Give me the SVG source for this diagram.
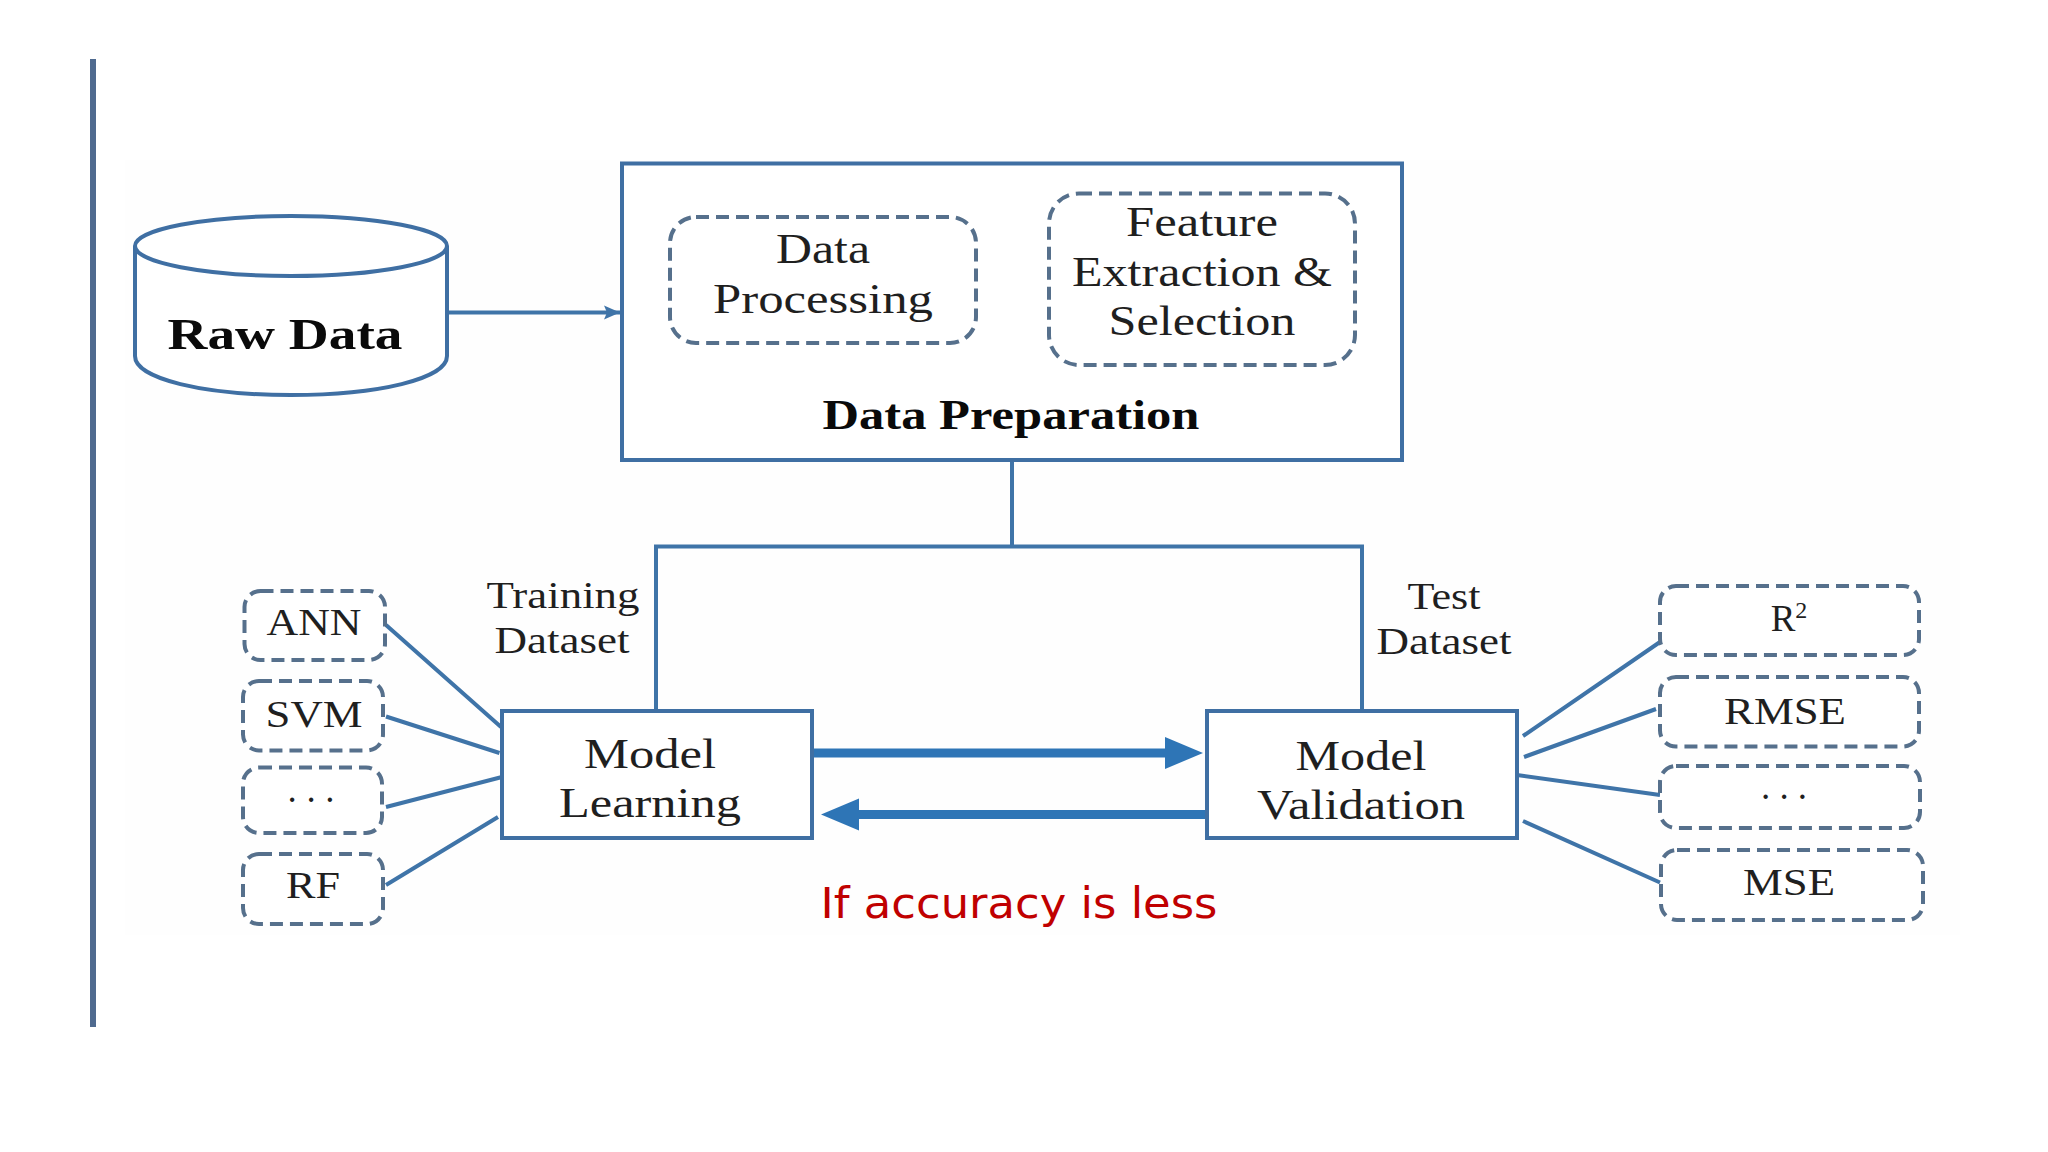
<svg xmlns="http://www.w3.org/2000/svg" width="2048" height="1152" viewBox="0 0 2048 1152">
<defs>
<style>
.s{fill:#fff;stroke:#3f6fa3;stroke-width:4}
.d{fill:#fff;stroke:#56708c;stroke-width:4;stroke-dasharray:13 7}
.c{fill:none;stroke:#3f74a8;stroke-width:4}
.t{font-family:"Liberation Serif","Times New Roman",serif;font-size:42px;fill:#1f1f1f;text-anchor:middle}
.b{font-weight:bold;fill:#0a0a0a}
.n{font-size:37px}
</style>
<marker id="a" markerUnits="userSpaceOnUse" markerWidth="16" markerHeight="16" refX="16" refY="8" orient="auto"><path d="M0 1L16 8L0 15L3 8Z" fill="#3f74a8"/></marker>
<marker id="h" markerUnits="userSpaceOnUse" markerWidth="40" markerHeight="36" refX="2" refY="18" orient="auto"><path d="M0 2L38 18L0 34Z" fill="#2e75b6"/></marker>
</defs>
<rect width="2048" height="1152" fill="#fff"/>
<rect x="125" y="160" width="1835" height="775" fill="#fefefe"/>
<rect x="90" y="59" width="6" height="968" fill="#4f6a8f"/>
<g id="connectors">
<path class="c" d="M447 312.500H620" marker-end="url(#a)"/>
<path class="c" d="M1012 460V546.500M656 711V546.500H1362V711"/>
<path class="c" d="M386 625L501 727M386 716.500L499.500 753M386 807L502 777M386 885L498 817"/>
<path class="c" d="M1523 736L1660 642M1524 757L1656 709M1517 775L1660 795M1523 821L1660 882.500"/>
<path d="M813 753H1167" fill="none" stroke="#2e75b6" stroke-width="9" marker-end="url(#h)"/>
<path d="M1208 814.500H857" fill="none" stroke="#2e75b6" stroke-width="9" marker-end="url(#h)"/>
</g>
<g id="raw-data">
<path class="s" d="M135 246V356C135 379 204 395 291 395C378 395 447 379 447 356V246"/>
<ellipse class="s" cx="291" cy="246" rx="156" ry="30"/>
<text class="t b" x="285" y="348.500" style="font-size:44px" textLength="235" lengthAdjust="spacingAndGlyphs">Raw Data</text>
</g>
<g id="data-preparation">
<rect class="s" x="622" y="163.500" width="780" height="296.500"/>
<text class="t b" x="1011" y="428.500" textLength="377" lengthAdjust="spacingAndGlyphs">Data Preparation</text>
</g>
<g id="data-processing">
<rect class="d" x="670" y="217" width="306" height="126" rx="26"/>
<text class="t" x="823" y="263" textLength="94" lengthAdjust="spacingAndGlyphs">Data</text>
<text class="t" x="823" y="312.500" textLength="220" lengthAdjust="spacingAndGlyphs">Processing</text>
</g>
<g id="feature-extraction">
<rect class="d" x="1049" y="193.500" width="306" height="171.500" rx="30"/>
<text class="t" x="1202" y="236" textLength="152" lengthAdjust="spacingAndGlyphs">Feature</text>
<text class="t" x="1202" y="285.500" textLength="260" lengthAdjust="spacingAndGlyphs">Extraction &amp;</text>
<text class="t" x="1202" y="334.500" textLength="187" lengthAdjust="spacingAndGlyphs">Selection</text>
</g>
<g id="training-label">
<text class="t n" x="563" y="608" textLength="153" lengthAdjust="spacingAndGlyphs">Training</text>
<text class="t n" x="562" y="652.500" textLength="135" lengthAdjust="spacingAndGlyphs">Dataset</text>
</g>
<g id="test-label">
<text class="t n" x="1444" y="609" textLength="73" lengthAdjust="spacingAndGlyphs">Test</text>
<text class="t n" x="1444" y="653.500" textLength="135" lengthAdjust="spacingAndGlyphs">Dataset</text>
</g>
<g id="model-learning">
<rect class="s" x="502" y="711" width="310" height="127"/>
<text class="t" x="650" y="768" textLength="132" lengthAdjust="spacingAndGlyphs">Model</text>
<text class="t" x="650" y="817" textLength="182" lengthAdjust="spacingAndGlyphs">Learning</text>
</g>
<g id="model-validation">
<rect class="s" x="1207" y="711" width="310" height="127"/>
<text class="t" x="1361" y="770" textLength="131" lengthAdjust="spacingAndGlyphs">Model</text>
<text class="t" x="1361" y="819" textLength="208" lengthAdjust="spacingAndGlyphs">Validation</text>
</g>
<g id="ann"><rect class="d" x="244.500" y="591" width="140.500" height="69" rx="16"/><text class="t n" x="314" y="635" textLength="95" lengthAdjust="spacingAndGlyphs">ANN</text></g>
<g id="svm"><rect class="d" x="243" y="681" width="140" height="69.500" rx="16"/><text class="t n" x="314" y="727" textLength="97" lengthAdjust="spacingAndGlyphs">SVM</text></g>
<g id="dots-left"><rect class="d" x="243" y="767.500" width="139" height="65.500" rx="16"/><text class="t n" x="311" y="802" textLength="47" lengthAdjust="spacing">. . .</text></g>
<g id="rf"><rect class="d" x="243" y="854" width="140" height="70" rx="16"/><text class="t n" x="313" y="898" textLength="54" lengthAdjust="spacingAndGlyphs">RF</text></g>
<g id="r2"><rect class="d" x="1660" y="586" width="259" height="69" rx="16"/><text class="t n" x="1789" y="631">R<tspan font-size="24" dy="-13">2</tspan></text></g>
<g id="rmse"><rect class="d" x="1660" y="677" width="259" height="69.500" rx="16"/><text class="t n" x="1785" y="724" textLength="122" lengthAdjust="spacingAndGlyphs">RMSE</text></g>
<g id="dots-right"><rect class="d" x="1660" y="766" width="260" height="62" rx="16"/><text class="t n" x="1784" y="799" textLength="46" lengthAdjust="spacing">. . .</text></g>
<g id="mse"><rect class="d" x="1661" y="850" width="262" height="70" rx="16"/><text class="t n" x="1789" y="895" textLength="92" lengthAdjust="spacingAndGlyphs">MSE</text></g>
<text id="retry-note" x="1019" y="918" font-family="'DejaVu Sans',sans-serif" font-size="42" fill="#c00000" text-anchor="middle" textLength="397" lengthAdjust="spacingAndGlyphs">If accuracy is less</text>
</svg>
